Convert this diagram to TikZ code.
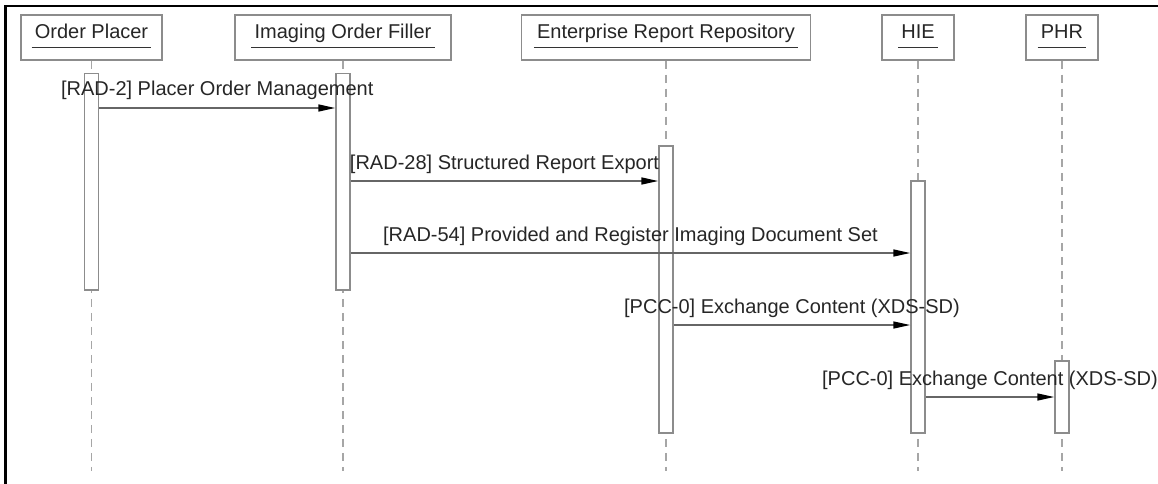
\documentclass[tikz,border=0pt]{standalone}
\usepackage{fontspec}
\setmainfont{Liberation Sans}
\usetikzlibrary{arrows.meta,calc}
\begin{document}
\begin{tikzpicture}[x=1pt,y=-1pt,
  font=\fontsize{20}{24}\selectfont,
  actor/.style={draw=black!45, line width=1.5pt, fill=white, minimum height=45pt, inner sep=0pt},
  atext/.style={inner sep=0pt, anchor=base, text=black!85},
  uline/.style={draw=black!80, line width=1.2pt},
  life/.style={draw=black!35, line width=1.5pt, dash pattern=on 8pt off 6pt},
  act/.style={draw=black!45, line width=1.5pt, fill=white, minimum width=14pt, inner sep=0pt, anchor=north},
  msg/.style={draw=black!60, line width=1.5pt, -{Triangle[length=17pt,width=7pt,color=black]}},
  mlabel/.style={midway, anchor=base, yshift=12pt, inner sep=0pt, text=black!85}]
\useasboundingbox (0,0) rectangle (1158,484);
\draw[line width=2.5pt] (5.5,484) -- (5.5,6) -- (1158,6);
% actors
\node[actor, minimum width=141pt] (op)  at (91.5,37.5) {};
\node[actor, minimum width=216pt] (iof) at (343,37.5) {};
\node[actor, minimum width=289pt] (err) at (666,37.5) {};
\node[actor, minimum width=72pt]  (hie) at (918,37.5) {};
\node[actor, minimum width=72pt]  (phr) at (1062,37.5) {};
\foreach \a/\t in {op/Order Placer, iof/Imaging Order Filler, err/Enterprise Report Repository, hie/HIE, phr/PHR}{
  \node[atext] (\a t) at ($(\a.south)+(0,-22.5)$) {\t};
  \draw[uline] ($(\a t.west |- \a.south)+(-3,-13)$) -- ($(\a t.east |- \a.south)+(3,-13)$);
  \coordinate (\a end) at ($(\a.south)+(0,410)$);
  \draw[life] (\a.south) -- (\a end);
}
% activations
\node[act, minimum height=216pt] (opa)  at (91.5,73) {};
\node[act, minimum height=216pt] (iofa) at (343,73) {};
\node[act, minimum height=287pt] (erra) at (666,145) {};
\node[act, minimum height=252pt] (hiea) at (918,180) {};
\node[act, minimum height=72pt]  (phra) at (1062,360) {};
% messages
\draw[msg] ($(opa.north east)+(0,35)$) -- node[mlabel] {[RAD-2] Placer Order Management} ($(iofa.north west)+(0,35)$);
\draw[msg] ($(iofa.north east)+(0,108)$) -- node[mlabel] {[RAD-28] Structured Report Export} ($(erra.north west)+(0,36)$);
\draw[msg] ($(iofa.north east)+(0,180)$) -- node[mlabel] {[RAD-54] Provided and Register Imaging Document Set} ($(hiea.north west)+(0,73)$);
\draw[msg] ($(erra.north east)+(0,180)$) -- node[mlabel] {[PCC-0] Exchange Content (XDS-SD)} ($(hiea.north west)+(0,145)$);
\draw[msg] ($(hiea.north east)+(0,217)$) -- node[mlabel] {[PCC-0] Exchange Content (XDS-SD)} ($(phra.north west)+(0,37)$);
\end{tikzpicture}
\end{document}
